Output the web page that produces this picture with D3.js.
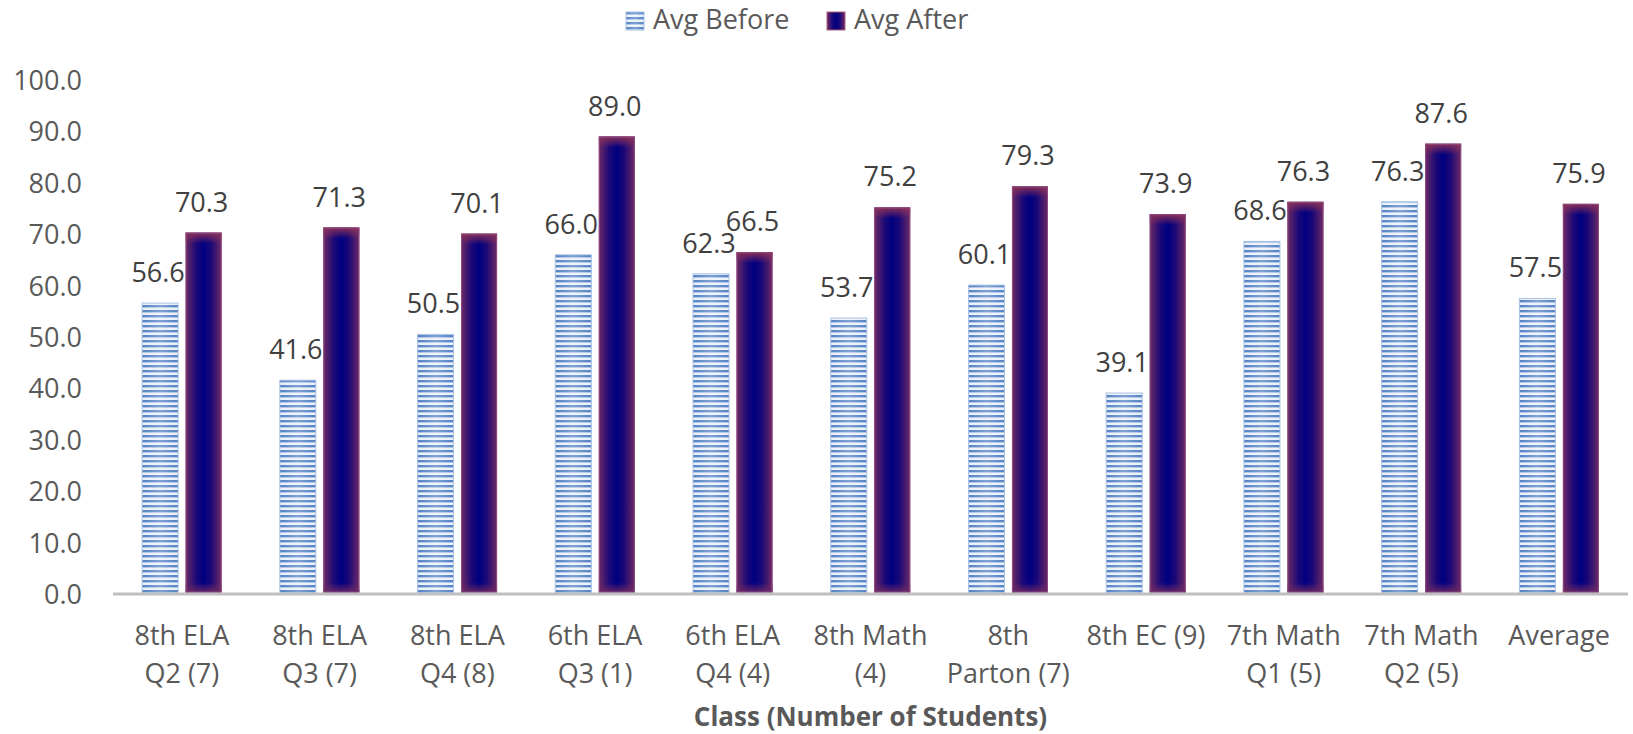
<!DOCTYPE html>
<html>
<head>
<meta charset="utf-8">
<script src="https://cdn.jsdelivr.net/npm/d3@7"></script>
<style>
  html, body { margin: 0; padding: 0; background: #ffffff; }
  svg { display: block; }
  text { font-family: "Open Sans", "Noto Sans", sans-serif; }
</style>
</head>
<body>
<svg id="chart" width="1633" height="734"></svg>
<script>
// Class labels (split over two lines where the axis wraps them)
const categories = [
  ["8th ELA", "Q2 (7)"],
  ["8th ELA", "Q3 (7)"],
  ["8th ELA", "Q4 (8)"],
  ["6th ELA", "Q3 (1)"],
  ["6th ELA", "Q4 (4)"],
  ["8th Math", "(4)"],
  ["8th", "Parton (7)"],
  ["8th EC (9)"],
  ["7th Math", "Q1 (5)"],
  ["7th Math", "Q2 (5)"],
  ["Average"]
];
const avgBefore = [56.6, 41.6, 50.5, 66.0, 62.3, 53.7, 60.1, 39.1, 68.6, 76.3, 57.5];
const avgAfter  = [70.3, 71.3, 70.1, 89.0, 66.5, 75.2, 79.3, 73.9, 76.3, 87.6, 75.9];
const seriesNames = ["Avg Before", "Avg After"];
const yTicks = [0, 10, 20, 30, 40, 50, 60, 70, 80, 90, 100];
const axisTitle = "Class (Number of Students)";

const svg = d3.select("#chart");
const plot = { left: 113, right: 1628, top: 80, bottom: 594 };

const keys = categories.map((c, i) => i);
const x = d3.scaleBand()
  .domain(keys)
  .range([plot.left, plot.right])
  .paddingInner(0.4227)
  .paddingOuter(0.4227 / 2);
const x1 = d3.scaleBand()
  .domain(seriesNames)
  .range([0, x.bandwidth()])
  .paddingInner(0.172);
const y = d3.scaleLinear().domain([0, 100]).range([plot.bottom, plot.top]);

// ---- paint definitions ----
const defs = svg.append("defs");

// striped fill for the "before" bars
const stripe = defs.append("pattern")
  .attr("id", "stripes")
  .attr("patternUnits", "userSpaceOnUse")
  .attr("width", 8).attr("height", 5);
stripe.append("rect").attr("width", 8).attr("height", 5).attr("fill", "#e9f0fa");
stripe.append("rect").attr("y", 0).attr("width", 8).attr("height", 2.4).attr("fill", "#4a7bc2");

// light sheen across the stripes, brighter toward the middle
const sheen = defs.append("linearGradient").attr("id", "sheen")
  .attr("x1", "0").attr("x2", "1").attr("y1", "0").attr("y2", "0");
sheen.append("stop").attr("offset", "0").attr("stop-color", "#ffffff").attr("stop-opacity", 0.05);
sheen.append("stop").attr("offset", "0.5").attr("stop-color", "#ffffff").attr("stop-opacity", 0.3);
sheen.append("stop").attr("offset", "1").attr("stop-color", "#ffffff").attr("stop-opacity", 0.05);

// navy core fading to plum at the edges for the "after" bars
const afterH = defs.append("linearGradient").attr("id", "afterH")
  .attr("x1", "0").attr("x2", "1").attr("y1", "0").attr("y2", "0");
afterH.append("stop").attr("offset", "0").attr("stop-color", "#6d2a64");
afterH.append("stop").attr("offset", "0.3").attr("stop-color", "#1a0878");
afterH.append("stop").attr("offset", "0.5").attr("stop-color", "#000080");
afterH.append("stop").attr("offset", "0.7").attr("stop-color", "#1a0878");
afterH.append("stop").attr("offset", "1").attr("stop-color", "#6d2a64");

const afterTop = defs.append("linearGradient").attr("id", "afterTop")
  .attr("x1", "0").attr("x2", "0").attr("y1", "0").attr("y2", "1");
afterTop.append("stop").attr("offset", "0").attr("stop-color", "#8a3058").attr("stop-opacity", 1);
afterTop.append("stop").attr("offset", "1").attr("stop-color", "#8a3058").attr("stop-opacity", 0);

const afterBottom = defs.append("linearGradient").attr("id", "afterBottom")
  .attr("x1", "0").attr("x2", "0").attr("y1", "0").attr("y2", "1");
afterBottom.append("stop").attr("offset", "0").attr("stop-color", "#6d2a64").attr("stop-opacity", 0);
afterBottom.append("stop").attr("offset", "1").attr("stop-color", "#6d2a64").attr("stop-opacity", 0.9);

// ---- y axis labels ----
const yAxis = d3.axisLeft(y).tickValues(yTicks).tickFormat(d3.format(".1f")).tickSize(0).tickPadding(0);
const yg = svg.append("g").attr("transform", `translate(${plot.left - 31},0)`).call(yAxis);
yg.select(".domain").remove();
yg.selectAll("text")
  .attr("fill", "#595959")
  .style("font-size", "27px")
  .attr("dy", "0.35em");

// ---- bars ----
const groups = svg.append("g").selectAll("g")
  .data(keys).join("g")
  .attr("transform", d => `translate(${x(d)},0)`);

const barTop = y(0) - 1.5;

// before
groups.append("rect")
  .attr("x", x1("Avg Before"))
  .attr("y", d => y(avgBefore[d]))
  .attr("width", x1.bandwidth())
  .attr("height", d => barTop - y(avgBefore[d]))
  .attr("fill", "url(#stripes)");
groups.append("rect")
  .attr("x", x1("Avg Before"))
  .attr("y", d => y(avgBefore[d]))
  .attr("width", x1.bandwidth())
  .attr("height", d => barTop - y(avgBefore[d]))
  .attr("fill", "url(#sheen)")
  .attr("stroke", "#a9c2e4")
  .attr("stroke-width", 1);

// after
groups.append("rect")
  .attr("x", x1("Avg After"))
  .attr("y", d => y(avgAfter[d]))
  .attr("width", x1.bandwidth())
  .attr("height", d => barTop - y(avgAfter[d]))
  .attr("fill", "url(#afterH)");
groups.append("rect")
  .attr("x", x1("Avg After"))
  .attr("y", d => y(avgAfter[d]))
  .attr("width", x1.bandwidth())
  .attr("height", 11)
  .attr("fill", "url(#afterTop)");
groups.append("rect")
  .attr("x", x1("Avg After"))
  .attr("y", barTop - 10)
  .attr("width", x1.bandwidth())
  .attr("height", 10)
  .attr("fill", "url(#afterBottom)");
groups.append("rect")
  .attr("x", x1("Avg After") + 0.5)
  .attr("y", d => y(avgAfter[d]) + 0.5)
  .attr("width", x1.bandwidth() - 1)
  .attr("height", d => barTop - y(avgAfter[d]) - 1)
  .attr("fill", "none")
  .attr("stroke", "#8e4a80")
  .attr("stroke-width", 1);

// value labels
const fmt = d3.format(".1f");
groups.append("text")
  .attr("x", x1("Avg Before") + x1.bandwidth() / 2 - 2)
  .attr("y", d => y(avgBefore[d]) - 21)
  .attr("text-anchor", "middle")
  .attr("fill", "#404040")
  .style("font-size", "27px")
  .text(d => fmt(avgBefore[d]));
groups.append("text")
  .attr("x", x1("Avg After") + x1.bandwidth() / 2 - 2)
  .attr("y", d => y(avgAfter[d]) - 21)
  .attr("text-anchor", "middle")
  .attr("fill", "#404040")
  .style("font-size", "27px")
  .text(d => fmt(avgAfter[d]));

// ---- x axis line ----
svg.append("line")
  .attr("x1", plot.left).attr("x2", plot.right)
  .attr("y1", y(0)).attr("y2", y(0))
  .attr("stroke", "#bfbfbf").attr("stroke-width", 3);

// ---- category labels ----
const xAxis = d3.axisBottom(x).tickSize(0).tickFormat("");
const xg = svg.append("g").attr("transform", `translate(0,${y(0)})`).call(xAxis);
xg.select(".domain").remove();
xg.selectAll(".tick").each(function (d) {
  const t = d3.select(this).append("text")
    .attr("text-anchor", "middle")
    .attr("fill", "#595959")
    .style("font-size", "27px");
  categories[d].forEach((line, i) => {
    t.append("tspan").attr("x", 0).attr("y", 51 + i * 38).text(line);
  });
});

// ---- axis title ----
svg.append("text")
  .attr("x", (plot.left + plot.right) / 2)
  .attr("y", 726)
  .attr("text-anchor", "middle")
  .attr("fill", "#595959")
  .style("font-size", "26px")
  .style("font-weight", "bold")
  .text(axisTitle);

// ---- legend ----
const legendItems = [
  { name: seriesNames[0], x: 626, fill: "url(#stripes)", over: "url(#sheen)", stroke: "#a9c2e4" },
  { name: seriesNames[1], x: 827, fill: "url(#afterH)", over: "none", stroke: "#b0607a" }
];
const lg = svg.append("g").selectAll("g").data(legendItems).join("g")
  .attr("transform", d => `translate(${d.x},12)`);
lg.append("rect").attr("width", 18).attr("height", 18).attr("fill", d => d.fill);
lg.append("rect").attr("width", 18).attr("height", 18).attr("fill", d => d.over)
  .attr("stroke", d => d.stroke).attr("stroke-width", 1);
lg.append("text")
  .attr("x", 27).attr("y", 17)
  .attr("fill", "#595959")
  .style("font-size", "27px")
  .text(d => d.name);
</script>
</body>
</html>
